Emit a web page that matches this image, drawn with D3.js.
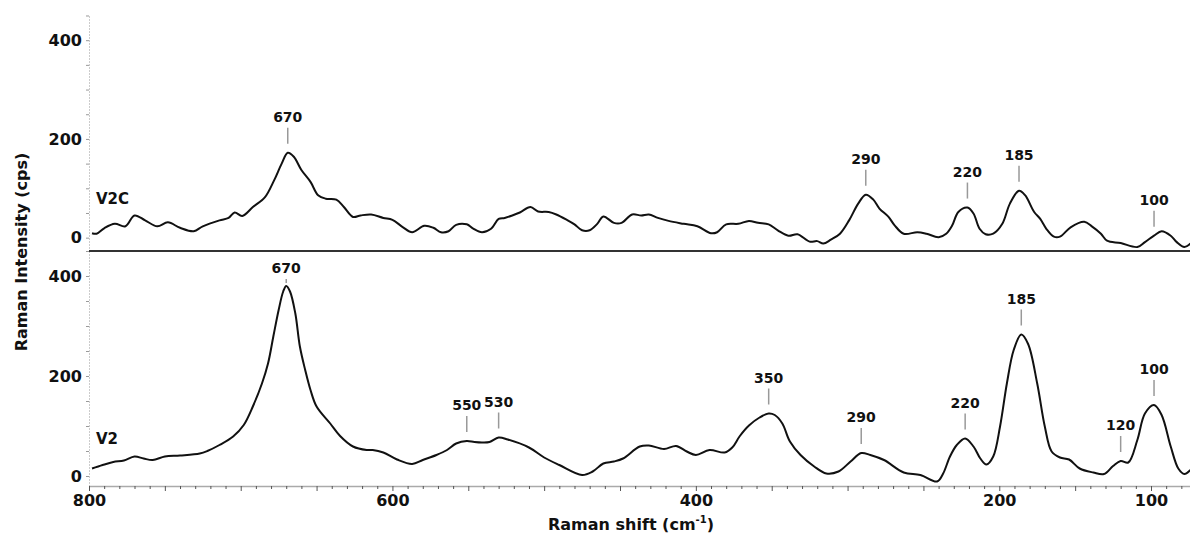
<!DOCTYPE html>
<html>
<head>
<meta charset="utf-8">
<script src="https://cdn.jsdelivr.net/npm/d3@7"></script>
<style>
body { margin: 0; background: #fff; }
text { font-family: "DejaVu Sans", Verdana, sans-serif; font-weight: bold; fill: #111; }
</style>
</head>
<body>
<script>
//V2C spectrum (top panel), Raman shift in cm-1 and intensity in cps
var shiftV2C = [798, 795, 790, 783, 776, 770, 763, 755, 748, 740, 731, 725, 714, 708, 704, 699, 692, 684, 678, 673, 669, 665, 660, 654, 649, 644, 637, 632, 626, 621, 614, 606, 600, 593, 587, 579, 573, 568, 563, 558, 551, 547, 541, 535, 530, 526, 521, 516, 509, 504, 497, 492, 485, 480, 475, 470, 465, 461, 454, 449, 442, 436, 431, 425, 418, 408, 399, 390, 386, 380, 372, 365, 359, 352, 346, 339, 333, 325, 320, 316, 311, 305, 299, 293, 288, 283, 279, 273, 269, 263, 254, 248, 240, 235, 231, 227, 221, 217, 213, 209, 204, 198, 193, 187, 183, 177, 173, 169, 164, 160, 153, 144, 139, 133, 129, 120, 109, 104, 98, 93, 87, 83, 78, 74];
var intensityV2C = [9, 8, 19, 28, 23, 45, 35, 23, 31, 20, 13, 23, 35, 40, 51, 44, 62, 82, 116, 150, 172, 164, 137, 113, 86, 79, 77, 62, 42, 45, 47, 40, 36, 21, 11, 24, 20, 11, 13, 26, 27, 19, 11, 18, 38, 40, 45, 51, 62, 53, 52, 47, 36, 27, 15, 15, 28, 43, 30, 30, 47, 45, 47, 40, 34, 28, 23, 9, 11, 27, 28, 34, 30, 27, 15, 4, 7, -8, -7, -12, -4, 8, 35, 69, 87, 77, 59, 42, 25, 8, 11, 8, 1, 8, 25, 52, 61, 49, 18, 7, 8, 28, 69, 95, 86, 52, 38, 18, 2, 2, 21, 32, 23, 8, -6, -11, -19, -9, 4, 13, 4, -9, -19, -12];

//V2 spectrum (bottom panel)
var shiftV2 = [798, 791, 784, 777, 770, 764, 758, 750, 740, 727, 722, 714, 705, 698, 692, 686, 682, 678.5, 675, 672, 670, 667.5, 664, 661, 657.5, 654, 650, 641, 634.5, 626, 617, 613, 606, 597, 587, 580, 571, 564, 558, 551, 546, 541, 536, 530, 524, 510, 500, 490, 475, 468, 461, 454, 448, 437, 431, 421, 413, 406, 400, 391, 381, 376, 371, 365, 358, 352, 348, 343, 338, 331, 322, 314, 306, 298, 291, 285, 276, 263, 252, 241, 237, 232.5, 228, 222.5, 217, 212.5, 208.5, 204, 199.5, 195, 190.5, 185.5, 181, 175, 170, 165.5, 160, 154, 147, 138, 131, 125, 120, 115, 109, 104, 98, 93, 87, 82, 78, 74];
var intensityV2 = [15, 22, 28, 31, 39, 35, 32, 39, 41, 45, 50, 62, 79, 102, 139, 185, 225, 279, 332, 369, 380, 369, 325, 259, 212, 172, 139, 105, 80, 59, 52, 52, 47, 33, 24, 32, 42, 52, 65, 70, 68, 67, 68, 77, 73, 57, 37, 22, 2, 9, 25, 29, 35, 59, 61, 54, 60, 49, 42, 52, 47, 57, 80, 101, 117, 125, 122, 105, 69, 42, 19, 5, 9, 29, 46, 42, 32, 7, 2, -11, 5, 39, 62, 75, 59, 35, 23, 39, 99, 185, 252, 283, 264, 185, 99, 49, 37, 33, 15, 7, 4, 20, 30, 27, 72, 125, 142, 122, 59, 15, 4, 12];

//labelled peaks
var peaksV2C = [670, 290, 220, 185, 100];
var peaksV2 = [670, 550, 530, 350, 290, 220, 185, 120, 100];

//tick labels
var xTickLabels = [800, 600, 400, 200, 100];
var yTickLabels = [0, 200, 400];

window.onload = function(){
    var w = 1190, h = 540; //svg size
    var svg = d3.select("body")
        .append("svg")
        .attr("width", w)
        .attr("height", h);

    //x scale, reversed (800 on the left)
    var x = d3.scaleLinear().domain([800, 100]).range([89, 1151]);
    var xEnd = x.invert(1190); //right edge of the plot

    //two stacked panels
    var panels = [
        {name: "V2C", shift: shiftV2C, vals: intensityV2C, peaks: peaksV2C, top: 15, bottom: 251, domain: [-27, 451], nameY: 204},
        {name: "V2", shift: shiftV2, vals: intensityV2, peaks: peaksV2, top: 251, bottom: 486, domain: [-20, 450], nameY: 444}
    ];

    panels.forEach(function(p){
        var y = d3.scaleLinear().domain(p.domain).range([p.bottom, p.top]);
        var pts = p.shift.map(function(s, i){ return [s, p.vals[i]]; });

        //y axis, dotted line with ticks every 50
        var yAxis = d3.axisLeft(y)
            .tickValues(d3.range(0, 451, 50))
            .tickSize(3)
            .tickSizeOuter(0)
            .tickPadding(4)
            .tickFormat(function(d){ return yTickLabels.indexOf(d) >= 0 ? d : ""; });
        var gy = svg.append("g")
            .attr("transform", "translate(89,0)")
            .call(yAxis);
        gy.select(".domain").attr("stroke", "#999").attr("stroke-dasharray", "1,2");
        gy.selectAll(".tick line").attr("stroke", "#999");
        gy.selectAll(".tick text").style("font-size", "16px").attr("fill", "#111");

        //spectrum line
        var line = d3.line()
            .x(function(d){ return x(d[0]); })
            .y(function(d){ return y(d[1]); })
            .curve(d3.curveCatmullRom.alpha(0.5));
        svg.append("path")
            .datum(pts)
            .attr("d", line)
            .attr("fill", "none")
            .attr("stroke", "#111")
            .attr("stroke-width", 2);

        //peak labels with small grey markers
        p.peaks.forEach(function(pk){
            //local maximum near the labelled shift
            var near = pts.filter(function(d){ return Math.abs(d[0] - pk) <= 6; });
            var best = near.reduce(function(a, b){ return b[1] > a[1] ? b : a; });
            var px = x(best[0]), py = y(best[1]);
            var tickBottom = py - 9, tickTop = tickBottom - 16, base = tickTop - 6;
            if (base < p.top + 22) { //not enough room under the panel top
                base = p.top + 22;
                tickTop = base + 6;
                tickBottom = py - 3;
            }
            svg.append("line")
                .attr("x1", px).attr("x2", px)
                .attr("y1", tickTop).attr("y2", tickBottom)
                .attr("stroke", "#999")
                .attr("stroke-width", 1.5);
            svg.append("text")
                .attr("x", px)
                .attr("y", base)
                .attr("text-anchor", "middle")
                .style("font-size", "14px")
                .text(pk);
        });

        //series name
        svg.append("text")
            .attr("x", 96)
            .attr("y", p.nameY)
            .style("font-size", "15px")
            .text(p.name);
    });

    //separator between panels
    svg.append("line")
        .attr("x1", 89).attr("x2", 1190)
        .attr("y1", 251).attr("y2", 251)
        .attr("stroke", "#333")
        .attr("stroke-width", 2);

    //x axis, ticks every 10, bigger every 50
    var xAxis = d3.axisBottom(x.copy().domain([800, xEnd]).range([89, 1190]))
        .tickValues(d3.range(800, xEnd, -10))
        .tickSize(6)
        .tickSizeOuter(0)
        .tickPadding(3)
        .tickFormat(function(d){ return xTickLabels.indexOf(d) >= 0 ? d : ""; });
    var gx = svg.append("g")
        .attr("transform", "translate(0,486)")
        .call(xAxis);
    gx.select(".domain").attr("stroke", "#aaa").attr("stroke-width", 1.5);
    gx.selectAll(".tick line")
        .attr("stroke", "#555")
        .attr("y2", function(d){ return d % 50 === 0 ? 5 : 3; });
    gx.selectAll(".tick text").style("font-size", "16px").attr("fill", "#111");

    //axis titles
    svg.append("text")
        .attr("transform", "translate(27,252) rotate(-90)")
        .attr("text-anchor", "middle")
        .style("font-size", "16px")
        .text("Raman Intensity (cps)");

    var xt = svg.append("text")
        .attr("x", 631)
        .attr("y", 530)
        .attr("text-anchor", "middle")
        .style("font-size", "16px");
    xt.append("tspan").text("Raman shift (cm");
    xt.append("tspan").attr("dy", -7).style("font-size", "10px").text("-1");
    xt.append("tspan").attr("dy", 7).text(")");
};
</script>
</body>
</html>
